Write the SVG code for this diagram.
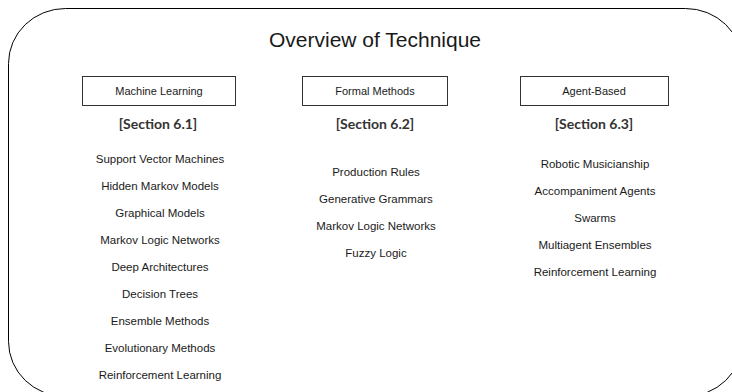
<svg xmlns="http://www.w3.org/2000/svg" width="732" height="392" viewBox="0 0 732 392">
<style>
.t{font-family:"Liberation Sans",Arial,sans-serif;fill:#1a1a1a;text-anchor:middle}
.item{font-size:11.5px}
.hdr{font-size:11px}
.sec{font-family:Lato,"Liberation Sans",Arial,sans-serif;font-weight:bold;font-size:14px;fill:#333;text-anchor:middle}
.box{fill:#fff;stroke:#333;stroke-width:1}
</style>
<rect width="732" height="392" fill="#fff"/>
<g id="frame">
<rect x="8.5" y="8.5" width="734" height="388" rx="57" ry="55" fill="none" stroke="#000" stroke-width="1"/>
<text class="t" x="375" y="47" font-size="21" fill="#000">Overview of Technique</text>
</g>
<g id="ml">
<rect class="box" x="82.5" y="76.5" width="153" height="29"/>
<text class="t hdr" x="159" y="95">Machine Learning</text>
<text class="sec" x="158" y="129">[Section 6.1]</text>
<text class="t item" x="160" y="163">Support Vector Machines</text>
<text class="t item" x="160" y="190">Hidden Markov Models</text>
<text class="t item" x="160" y="217">Graphical Models</text>
<text class="t item" x="160" y="244">Markov Logic Networks</text>
<text class="t item" x="160" y="271">Deep Architectures</text>
<text class="t item" x="160" y="298">Decision Trees</text>
<text class="t item" x="160" y="325">Ensemble Methods</text>
<text class="t item" x="160" y="352">Evolutionary Methods</text>
<text class="t item" x="160" y="379">Reinforcement Learning</text>
</g>
<g id="fm">
<rect class="box" x="302.5" y="76.5" width="145" height="29"/>
<text class="t hdr" x="375" y="95">Formal Methods</text>
<text class="sec" x="375" y="129">[Section 6.2]</text>
<text class="t item" x="376" y="176">Production Rules</text>
<text class="t item" x="376" y="203">Generative Grammars</text>
<text class="t item" x="376" y="230">Markov Logic Networks</text>
<text class="t item" x="376" y="257">Fuzzy Logic</text>
</g>
<g id="ab">
<rect class="box" x="520.5" y="76.5" width="148" height="29"/>
<text class="t hdr" x="594" y="95">Agent-Based</text>
<text class="sec" x="594" y="129">[Section 6.3]</text>
<text class="t item" x="595" y="168">Robotic Musicianship</text>
<text class="t item" x="595" y="195">Accompaniment Agents</text>
<text class="t item" x="595" y="222">Swarms</text>
<text class="t item" x="595" y="249">Multiagent Ensembles</text>
<text class="t item" x="595" y="276">Reinforcement Learning</text>
</g>
<g id="connectors"></g>
</svg>
